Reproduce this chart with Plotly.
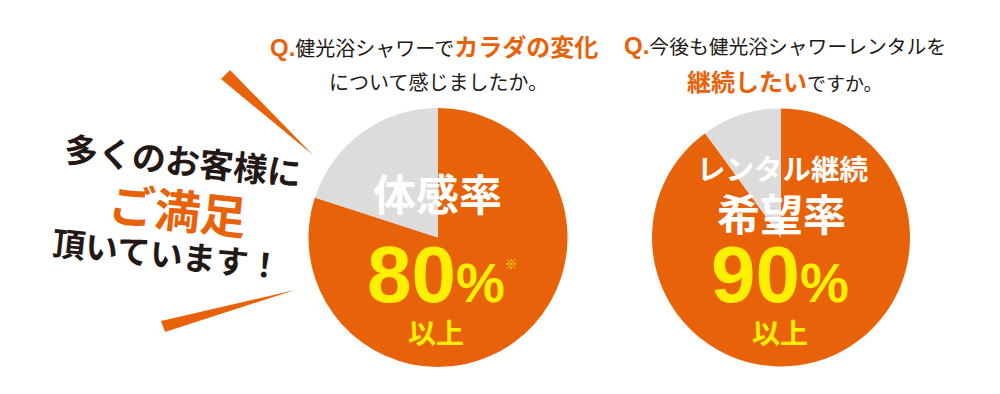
import plotly.graph_objects as go

# ---- data ----
pie_labels = ["該当", "その他"]
left_values = [80, 20]
right_values = [90, 10]
left_rate = "80"
right_rate = "90"

ORANGE = "#e8620a"
GRAY = "#dcdcdc"
YELLOW = "#fff000"
DARK = "#231815"
JP = "Noto Sans CJK JP"
NUM = "Liberation Sans"

# page body has an 8px margin; figure fills the rest of the 1000x394 window
OFF = 8
W, H = 1000 - 2 * OFF, 394 - 2 * OFF

def fx(sx):
    return (sx - OFF) / W

def fy(sy):
    return 1 - (sy - OFF) / H

fig = go.Figure()

def dom(x0, x1, y0, y1):
    return dict(x=[fx(x0), fx(x1)], y=[fy(y1), fy(y0)])

for vals, d in [(left_values, dom(308, 568, 108, 367)), (right_values, dom(652, 910, 108, 367))]:
    fig.add_trace(go.Pie(
        labels=pie_labels, values=vals, sort=False, direction="clockwise", rotation=0,
        marker=dict(colors=[ORANGE, GRAY], line=dict(width=0)),
        textinfo="none", hoverinfo="skip", showlegend=False, domain=d,
    ))

ann = []

def A(px, py, text, size, color, family=JP, angle=0, xanchor="center", yanchor="middle", weight=None):
    f = dict(size=size, color=color, family=family)
    if weight:
        f["weight"] = weight
    ann.append(dict(x=fx(px), y=fy(py), xref="paper", yref="paper", text=text,
                    showarrow=False, textangle=angle, xanchor=xanchor, yanchor=yanchor,
                    font=f))

# titles
A(268, 45, f"<b><span style='color:{ORANGE};font-family:{NUM};font-size:24px'>Q.</span></b>"
           f"健光浴シャワーで<b><span style='color:{ORANGE};font-size:24px'>カラダの変化</span></b>",
  20, DARK, xanchor="left")
A(438, 81, "について感じましたか。", 20, DARK)
A(622, 45, f"<b><span style='color:{ORANGE};font-family:{NUM};font-size:24px'>Q.</span></b>"
           f"今後も健光浴シャワーレンタルを", 19.8, DARK, xanchor="left")
A(785, 80, f"<b><span style='color:{ORANGE};font-size:24px'>継続したい</span></b>ですか。", 19, DARK)

# left slogan
A(183, 159, "<b>多くのお客様に</b>", 34, DARK, angle=6, weight=900)
A(178, 208, "<b>ご満足</b>", 46, ORANGE, angle=6, weight=900)
A(167, 253, "<b>頂いています！</b>", 33, DARK, angle=6, weight=900)

# pie texts - left
A(437, 192, "<b>体感率</b>", 43, "white", weight=900)
A(436, 274, f"<b>{left_rate}<span style='font-size:55px'>%</span></b>", 80, YELLOW, family=NUM)
A(511, 263, "※", 12, YELLOW)
A(436, 332, "<b>以上</b>", 28, YELLOW, weight=900)

# pie texts - right
A(783, 167, "<b>レンタル継続</b>", 28.5, "white", weight=900)
A(781, 212, "<b>希望率</b>", 43, "white", weight=900)
A(780, 274, f"<b>{right_rate}<span style='font-size:55px'>%</span></b>", 80, YELLOW, family=NUM)
A(780, 332, "<b>以上</b>", 28, YELLOW, weight=900)

def tri(p):
    path = "M " + " L ".join(f"{fx(x)},{fy(y)}" for x, y in p) + " Z"
    return dict(type="path", xref="paper", yref="paper", path=path,
                fillcolor=ORANGE, line=dict(width=0))

shapes = [
    tri([(221, 79), (230, 70), (313, 155)]),
    tri([(161, 321), (165, 332), (295, 290)]),
]

fig.update_layout(
    width=W, height=H, margin=dict(l=0, r=0, t=0, b=0),
    paper_bgcolor="white", plot_bgcolor="white",
    annotations=ann, shapes=shapes,
    xaxis=dict(visible=False), yaxis=dict(visible=False),
)

fig.write_html("out.html")
